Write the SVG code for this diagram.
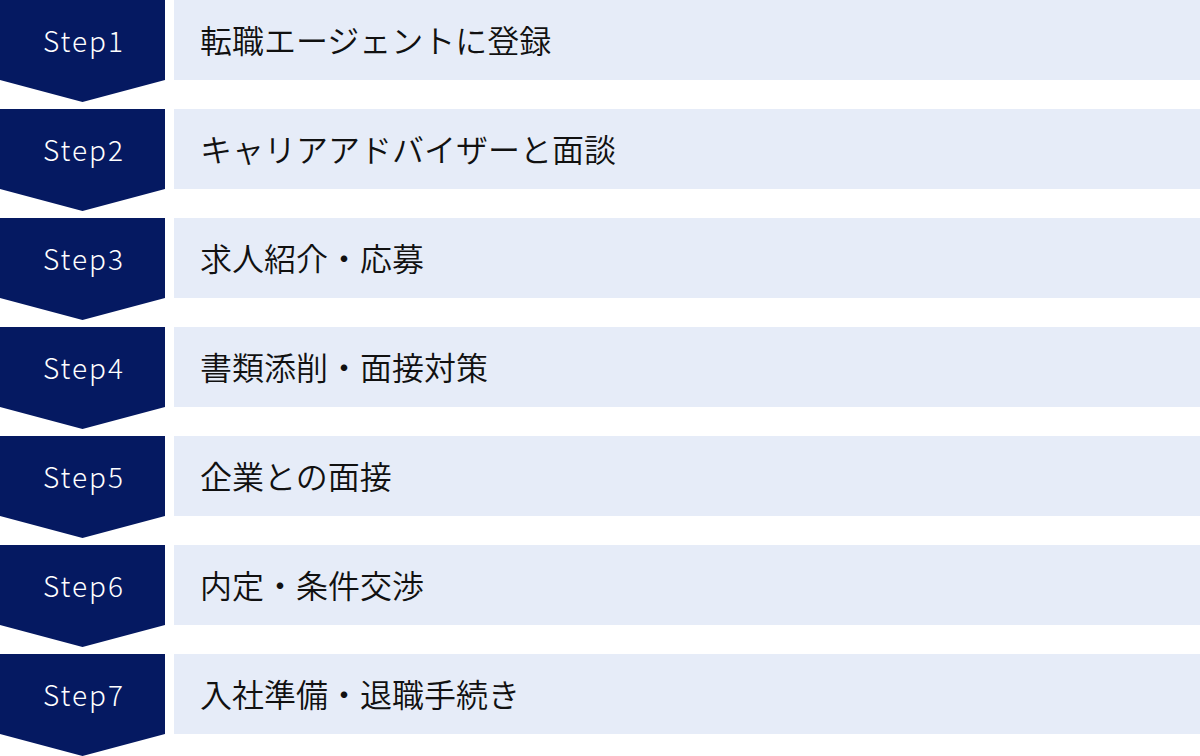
<svg xmlns="http://www.w3.org/2000/svg" width="1200" height="756" viewBox="0 0 1200 756">
<style>
.step{fill:#051961}
.box{fill:#e6ecf8}
.sl{font-family:"Noto Sans CJK JP","Noto Sans",sans-serif;font-size:28px;font-weight:300;fill:#ffffff;text-anchor:middle;letter-spacing:2px}
.tx{font-family:"Noto Sans CJK JP",sans-serif;font-size:32px;font-weight:350;fill:#111111}
</style>
<defs>
<path id="chev" d="M0 0H165V80L82.5 102L0 80Z"/>
</defs>
<g id="connectors"></g>
<g id="step1" transform="translate(0,0)"><use href="#chev" class="step"/><rect class="box" x="174" y="0" width="1026" height="80"/><text class="sl" x="84" y="52">Step1</text><text class="tx" x="200" y="53">転職エージェントに登録</text></g>
<g id="step2" transform="translate(0,109)"><use href="#chev" class="step"/><rect class="box" x="174" y="0" width="1026" height="80"/><text class="sl" x="84" y="52">Step2</text><text class="tx" x="200" y="53">キャリアアドバイザーと面談</text></g>
<g id="step3" transform="translate(0,218)"><use href="#chev" class="step"/><rect class="box" x="174" y="0" width="1026" height="80"/><text class="sl" x="84" y="52">Step3</text><text class="tx" x="200" y="53">求人紹介・応募</text></g>
<g id="step4" transform="translate(0,327)"><use href="#chev" class="step"/><rect class="box" x="174" y="0" width="1026" height="80"/><text class="sl" x="84" y="52">Step4</text><text class="tx" x="200" y="53">書類添削・面接対策</text></g>
<g id="step5" transform="translate(0,436)"><use href="#chev" class="step"/><rect class="box" x="174" y="0" width="1026" height="80"/><text class="sl" x="84" y="52">Step5</text><text class="tx" x="200" y="53">企業との面接</text></g>
<g id="step6" transform="translate(0,545)"><use href="#chev" class="step"/><rect class="box" x="174" y="0" width="1026" height="80"/><text class="sl" x="84" y="52">Step6</text><text class="tx" x="200" y="53">内定・条件交渉</text></g>
<g id="step7" transform="translate(0,654)"><use href="#chev" class="step"/><rect class="box" x="174" y="0" width="1026" height="80"/><text class="sl" x="84" y="52">Step7</text><text class="tx" x="200" y="53">入社準備・退職手続き</text></g>
</svg>
